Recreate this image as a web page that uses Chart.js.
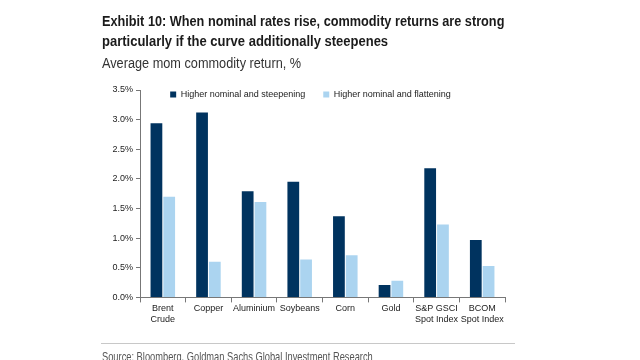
<!DOCTYPE html>
<html>
<head>
<meta charset="utf-8">
<script src="https://cdn.jsdelivr.net/npm/chart.js@4"></script>
<style>
  html, body { margin: 0; padding: 0; background: #fff; }
  body { width: 640px; height: 360px; position: relative; overflow: hidden; font-family: 'Liberation Sans', Arial, sans-serif; }
  .txt { position: absolute; left: 102px; white-space: nowrap; transform-origin: 0 0; }
  #title1 { top: 11px; font-size: 14px; font-weight: bold; line-height: 20px; color: #1b1b1b; }
  #title2 { top: 31px; font-size: 14px; font-weight: bold; line-height: 20px; color: #1b1b1b; }
  #subtitle { top: 55px; font-size: 14px; color: #333; }
  #rule { position: absolute; left: 101px; top: 343px; width: 414px; height: 1px; background: #c8c8c8; }
  #source { top: 349px; font-size: 13px; color: #555; }
  #wrap { position: absolute; left: 0; top: 0; width: 640px; height: 360px; }
</style>
</head>
<body>
<div id="wrap"><canvas id="returns"></canvas></div>
<div class="txt" id="title1" data-w="402">Exhibit 10: When nominal rates rise, commodity returns are strong</div>
<div class="txt" id="title2" data-w="286">particularly if the curve additionally steepenes</div>
<div class="txt" id="subtitle" data-w="199">Average mom commodity return, %</div>
<div id="rule"></div>
<div class="txt" id="source" data-w="271">Source: Bloomberg, Goldman Sachs Global Investment Research</div>
<script>
// data
var commodities = [['Brent', 'Crude'], 'Copper', 'Aluminium', 'Soybeans', 'Corn', 'Gold', ['S&P GSCI', 'Spot Index'], ['BCOM', 'Spot Index']];
var steepening = [2.94, 3.12, 1.79, 1.95, 1.37, 0.21, 2.18, 0.97];
var flattening = [1.70, 0.60, 1.61, 0.64, 0.71, 0.28, 1.23, 0.53];
var yTicks = [0, 0.5, 1.0, 1.5, 2.0, 2.5, 3.0, 3.5];

// squeeze the header text to look like the narrow house font
document.querySelectorAll('.txt').forEach(function (el) {
	el.style.transform = 'scaleX(' + (el.dataset.w / el.offsetWidth) + ')';
});

var tickFont = { family: "'Liberation Sans', Arial, sans-serif", size: 9 };

// push the legend down so it sits inside the plot, level with the top tick
var legendDown = {
	id: 'legendDown',
	afterLayout: function (chart) {
		var lg = chart.legend;
		var h = lg.bottom - lg.top;
		lg.top = chart.chartArea.top - 18;
		lg.bottom = lg.top + h;
		lg.left += 8;
		lg.right += 8;
	}
};

//the bar chart//////////////////////////////////////////////////////////////
var ctx = document.getElementById('returns').getContext('2d');
var returnsChart = new Chart(ctx, {
	type: 'bar',
	data: {
		labels: commodities,
		datasets: [{
			label: 'Higher nominal and steepening',
			data: steepening,
			backgroundColor: '#00335f',
			barPercentage: 0.92,
			categoryPercentage: 0.56
		}, {
			label: 'Higher nominal and flattening',
			data: flattening,
			backgroundColor: '#abd4f0',
			barPercentage: 0.92,
			categoryPercentage: 0.56
		}]
	},
	plugins: [legendDown],
	options: {
		responsive: true,
		maintainAspectRatio: false,
		animation: false,
		layout: {
			padding: { left: 100, right: 135, top: 53, bottom: 34 }
		},
		plugins: {
			legend: {
				position: 'top',
				align: 'center',
				labels: {
					boxWidth: 6,
					boxHeight: 6,
					padding: 18,
					color: '#222',
					font: tickFont
				}
			},
			tooltip: { enabled: false }
		},
		scales: {
			x: {
				grid: { display: true, drawOnChartArea: false, drawTicks: true, tickLength: 5, color: '#777' },
				border: { color: '#777' },
				ticks: { color: '#222', font: tickFont, maxRotation: 0, autoSkip: false, padding: 1 }
			},
			y: {
				min: 0,
				max: 3.5,
				afterFit: function (axis) { axis.width = 40; },
				afterBuildTicks: function (axis) { axis.ticks = yTicks.map(function (v) { return { value: v }; }); },
				grid: { display: true, drawOnChartArea: false, drawTicks: true, tickLength: 4, color: '#777' },
				border: { color: '#777' },
				ticks: {
					color: '#222',
					font: tickFont,
					padding: 3,
					callback: function (v) { return v.toFixed(1) + '%'; }
				}
			}
		}
	}
});
//end bar chart//////////////////////////////////////////////////////////////
</script>
</body>
</html>
